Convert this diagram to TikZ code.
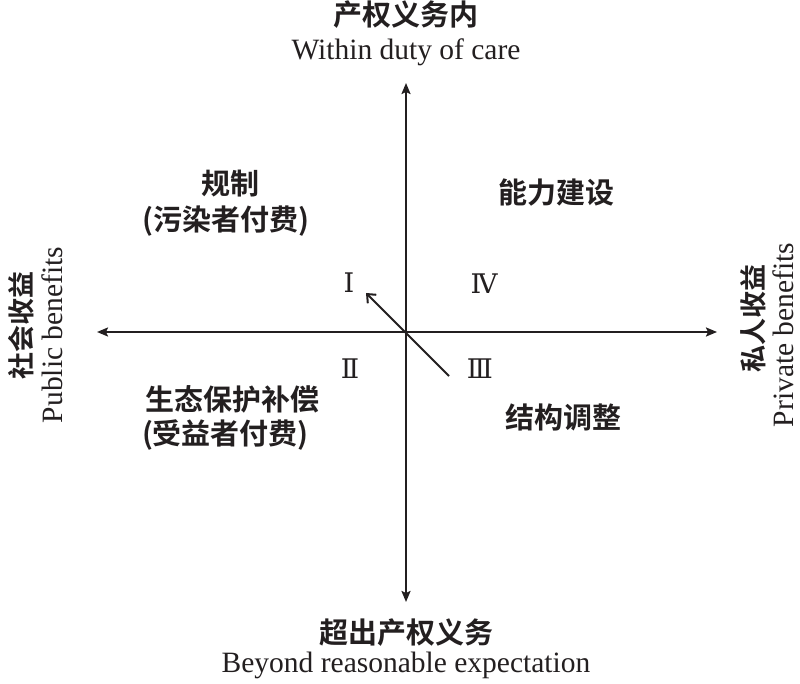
\documentclass[tikz,border=0pt]{standalone}
\usepackage{fontspec}
\setmainfont{Liberation Serif}
\newfontfamily\cjk{Noto Sans CJK SC Bold}
\newfontfamily\romfont{DejaVu Serif}
\usetikzlibrary{arrows.meta}
\definecolor{ink}{RGB}{35,31,32}
\begin{document}
\begin{tikzpicture}[x=1pt,y=-1pt,
  every node/.style={inner sep=0pt, outer sep=0pt, text=ink},
  zh/.style={font=\cjk\fontsize{29}{34}\selectfont, anchor=base},
  zhside/.style={font=\cjk\fontsize{27}{32}\selectfont, anchor=base, rotate=90},
  en/.style={font=\fontsize{29.5}{34}\selectfont, anchor=base},
  enside/.style={en, rotate=90},
  rom/.style={font=\romfont\fontsize{27}{32}\selectfont},
  axis/.style={draw=ink, line width=2pt, -{Stealth[length=11pt,width=9pt,inset=2pt]}},
  movearrow/.style={draw=ink, line width=2pt, -{Straight Barb[length=7pt,width=12pt]}}]
\useasboundingbox (0,0) rectangle (800,684);
\fill[white] (0,0) rectangle (800,684);
% axis ends
\coordinate (O) at (406,332);
\coordinate (L) at (97,332);
\coordinate (R) at (717,332);
\coordinate (T) at (406,83);
\coordinate (B) at (406,602);
\coordinate (mstart) at (449,376);
\coordinate (mend) at (366,293);
\draw[axis] (O) -- (L);
\draw[axis] (O) -- (R);
\draw[axis] (O) -- (T);
\draw[axis] (O) -- (B);
\draw[movearrow] (mstart) -- (mend);
% axis labels
\node[zh] (topzh) at (406,26) {产权义务内};
\node[en] (topen) at (406,60) {Within duty of care};
\node[zh] (botzh) at (406,643) {超出产权义务};
\node[en] (boten) at (406,672) {Beyond reasonable expectation};
\node[zhside] (leftzh) at (31,325) {社会收益};
\node[enside] (leften) at (62,335) {Public benefits};
\node[zhside] (rightzh) at (763,318) {私人收益};
\node[enside] (righten) at (793,335) {Private benefits};
% quadrant labels
\node[zh] (q1a) at (230,195) {规制};
\node[zh] (q1b) at (226,231) {(污染者付费)};
\node[zh] (q4a) at (556,204) {能力建设};
\node[zh, anchor=base west] (q2a) at (145,410) {生态保护补偿};
\node[zh, anchor=base west] (q2b) at (142,444) {(受益者付费)};
\node[zh] (q3a) at (563,428) {结构调整};
% roman numerals
\node[rom] (r1) at (349,283) {Ⅰ};
\node[rom] (r4) at (484,284) {Ⅳ};
\node[rom] (r2) at (350,369) {Ⅱ};
\node[rom] (r3) at (480,369) {Ⅲ};
\end{tikzpicture}
\end{document}
